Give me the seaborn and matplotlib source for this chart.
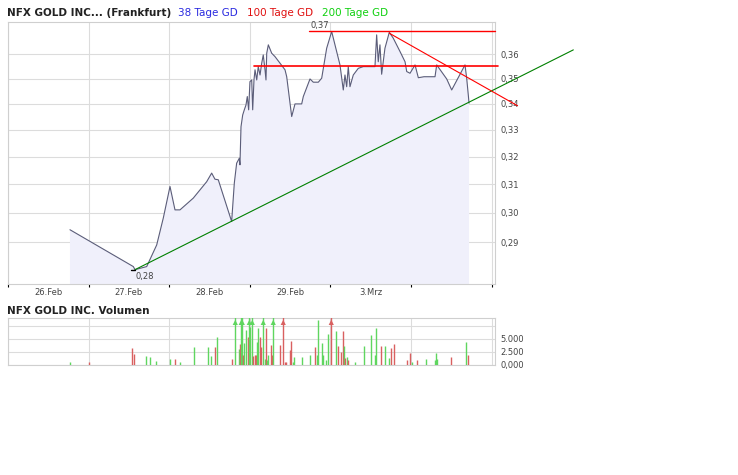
import numpy as np
import pandas as pd
import matplotlib
matplotlib.use("Agg")
import matplotlib.pyplot as plt
import seaborn as sns
from matplotlib.ticker import NullLocator

# Kursverlauf: Tag ab 26.Feb 00:00 (Bruchteil), Kurs in EUR
price_day = [0.769, 1.555, 1.576, 1.721, 1.845, 1.927, 2.010, 2.072, 2.134, 2.299,
             2.465, 2.527, 2.568, 2.609, 2.775, 2.808, 2.837, 2.870, 2.878, 2.891,
             2.912, 2.932, 2.953, 2.969, 2.986, 3.002, 3.024, 3.036, 3.052, 3.065,
             3.086, 3.105, 3.127, 3.148, 3.167, 3.189, 3.201, 3.210, 3.230, 3.272,
             3.313, 3.375, 3.437, 3.458, 3.520, 3.561, 3.644, 3.664, 3.747, 3.788,
             3.850, 3.892, 3.954, 4.016, 4.119, 4.160, 4.181, 4.202, 4.222, 4.243,
             4.284, 4.346, 4.408, 4.553, 4.574, 4.594, 4.615, 4.636, 4.677, 4.731,
             4.780, 4.864, 4.926, 4.947, 4.988, 5.050, 5.091, 5.161, 5.298, 5.319,
             5.443, 5.505, 5.670, 5.691, 5.711, 5.720]
price_value = [0.2942, 0.2820, 0.2810, 0.2820, 0.2891, 0.2982, 0.3092, 0.3010, 0.3010, 0.3051,
               0.3109, 0.3140, 0.3118, 0.3116, 0.2970, 0.3104, 0.3176, 0.3194, 0.3170, 0.3312,
               0.3357, 0.3377, 0.3396, 0.3429, 0.3377, 0.3488, 0.3495, 0.3377, 0.3495, 0.3536,
               0.3495, 0.3549, 0.3515, 0.3563, 0.3597, 0.3536, 0.3495, 0.3604, 0.3639, 0.3604,
               0.3590, 0.3563, 0.3536, 0.3508, 0.3351, 0.3400, 0.3400, 0.3429, 0.3499, 0.3486,
               0.3486, 0.3502, 0.3625, 0.3695, 0.3556, 0.3455, 0.3515, 0.3468, 0.3549, 0.3468,
               0.3515, 0.3542, 0.3549, 0.3549, 0.3681, 0.3569, 0.3639, 0.3518, 0.3625, 0.3692,
               0.3667, 0.3611, 0.3569, 0.3529, 0.3522, 0.3556, 0.3504, 0.3508, 0.3508, 0.3556,
               0.3499, 0.3455, 0.3556, 0.3502, 0.3435, 0.3403]

day_labels = ["26.Feb", "27.Feb", "28.Feb", "29.Feb", "3.Mrz"]
price_ticks = [0.29, 0.30, 0.31, 0.32, 0.33, 0.34, 0.35, 0.36]

# Umsatz (Stueck), 1 = gruen, 0 = rot; Werte ueber der Skala sind geschaetzt
vol_day = [0.773, 1.009, 1.542, 1.563, 1.716, 1.762, 1.840, 2.010, 2.076, 2.138,
           2.311, 2.485, 2.522, 2.572, 2.597, 2.783, 2.820, 2.862, 2.875, 2.894,
           2.907, 2.919, 2.932, 2.957, 2.981, 2.994, 3.006, 3.031, 3.043, 3.061,
           3.073, 3.086, 3.105, 3.130, 3.143, 3.167, 3.192, 3.205, 3.217, 3.230,
           3.267, 3.279, 3.291, 3.378, 3.415, 3.440, 3.453, 3.502, 3.515, 3.539,
           3.552, 3.651, 3.751, 3.813, 3.837, 3.850, 3.900, 3.912, 3.949, 3.974,
           4.011, 4.073, 4.098, 4.135, 4.160, 4.172, 4.185, 4.210, 4.222, 4.309,
           4.421, 4.507, 4.557, 4.569, 4.632, 4.681, 4.731, 4.756, 4.793, 4.954,
           4.991, 5.016, 5.078, 5.190, 5.301, 5.314, 5.326, 5.500, 5.686, 5.711]
vol_value = [400, 400, 3100, 2100, 1700, 1500, 600, 1000, 1000, 400,
             3300, 3300, 1700, 3300, 5200, 1150, 12000, 2900, 4000, 12000,
             12000, 1900, 4200, 6700, 5200, 12000, 7300, 12000, 1700, 1800,
             1900, 4400, 7100, 5200, 3300, 12000, 1150, 7100, 800, 1900,
             3800, 1900, 12000, 3800, 12000, 400, 400, 2700, 4600, 400,
             1500, 1500, 1900, 3300, 1900, 8600, 4200, 1900, 800, 5800,
             12000, 6500, 3600, 2500, 6500, 3600, 1300, 1500, 800, 400,
             3500, 5600, 1900, 7100, 3500, 3500, 1300, 3100, 4000, 800,
             2300, 400, 800, 1000, 800, 2300, 1000, 1500, 4400, 1900]
vol_up = [1, 0, 0, 0, 1, 1, 1, 1, 0, 1,
          1, 1, 1, 0, 1, 0, 1, 1, 0, 1,
          1, 0, 1, 1, 0, 1, 1, 1, 0, 0,
          0, 1, 1, 0, 0, 1, 1, 0, 1, 1,
          0, 0, 1, 0, 0, 0, 0, 0, 0, 1,
          1, 1, 1, 0, 1, 1, 1, 1, 1, 1,
          0, 1, 0, 0, 0, 1, 0, 1, 0, 1,
          1, 1, 1, 1, 0, 1, 1, 0, 0, 0,
          0, 1, 0, 1, 1, 1, 1, 0, 1, 0]
vol_ticks = [0, 2500, 5000, 7500]
vol_tick_labels = ["0,000", "2.500", "5.000", ""]

# eingezeichnete Trendlinien
uptrend_day = [1.576, 7.014]
uptrend_value = [0.2810, 0.3618]
downtrend_day = [4.731, 6.321]
downtrend_value = [0.3688, 0.3393]
support_day = [3.052, 6.079]
support_value = 0.3551
resist_day = [3.734, 6.042]
resist_value = 0.3697

W, H = 738, 475
GRID = "#dcdcdc"
BORDER = "#cfcfcf"
TXT = "#444444"

sns.set_theme(style="white")
plt.rcParams["font.family"] = ["DejaVu Sans"]

fig = plt.figure(figsize=(W / 100, H / 100), dpi=100)
ax = fig.add_axes([7.5 / W, 1 - 283.7 / H, 487.8 / W, 262.2 / H])
axv = fig.add_axes([7.5 / W, 1 - 364.5 / H, 487.8 / W, 46.8 / H])

# --- Kurs ---
df = pd.DataFrame({"day": price_day, "price": price_value})
ax.set_yscale("log")
ax.fill_between(df["day"], df["price"], 0.2, color="#f0f0fb", lw=0, zorder=1)
sns.lineplot(data=df, x="day", y="price", ax=ax, color="#5b5d79", lw=0.8, zorder=3)

ax.set_xlim(-0.006, 6.046)
ax.set_ylim(0.2765, 0.3738)

ax.set_yticks(price_ticks)
ax.set_yticklabels([f"{v:.2f}".replace(".", ",") for v in price_ticks])
ax.yaxis.set_minor_locator(NullLocator())
ax.yaxis.tick_right()
ax.tick_params(axis="y", length=0, pad=3.5, labelsize=6, labelcolor=TXT)

ax.set_xticks(range(0, 7))
ax.set_xticklabels([])
ax.set_xticks([i + 0.5 for i in range(len(day_labels))], minor=True)
ax.set_xticklabels(day_labels, minor=True)
ax.tick_params(axis="x", which="major", length=2.5, width=0.8, color="black",
               direction="out", bottom=True)
ax.tick_params(axis="x", which="minor", length=0, pad=3, labelsize=6, labelcolor=TXT)
ax.grid(True, which="major", color=GRID, lw=0.8, zorder=0)
ax.set_axisbelow(True)
ax.set_xlabel("")
ax.set_ylabel("")
for s in ax.spines.values():
    s.set_color(BORDER)
    s.set_linewidth(0.8)

# Trendlinien
ax.plot(uptrend_day, uptrend_value, color="#008000", lw=0.8, clip_on=False, zorder=4)
ax.plot(downtrend_day, downtrend_value, color="#ff0000", lw=0.8, clip_on=False, zorder=4)
ax.plot(support_day, [support_value] * 2, color="#ff0000", lw=1.2, clip_on=False, zorder=4)
ax.plot(resist_day, [resist_value] * 2, color="#ff0000", lw=1.0, clip_on=False, zorder=4)

# Hoch / Tief
hi_i = int(np.argmax(price_value))
lo_i = int(np.argmin(price_value))
hi_txt = f"{price_value[hi_i]:.2f}".replace(".", ",")
lo_txt = f"{price_value[lo_i]:.2f}".replace(".", ",")
ax.annotate(hi_txt, xy=(resist_day[0], resist_value), xytext=(1, 1),
            textcoords="offset points", ha="left", va="bottom", fontsize=6, color=TXT)
ax.plot([price_day[lo_i] - 0.05, price_day[lo_i]], [price_value[lo_i]] * 2,
        color="black", lw=1, zorder=5)
ax.annotate(lo_txt, xy=(price_day[lo_i], price_value[lo_i]), xytext=(0.5, -2),
            textcoords="offset points", ha="left", va="top", fontsize=6, color=TXT)

# --- Volumen ---
vdf = pd.DataFrame({"day": vol_day, "volume": vol_value, "up": vol_up})
vol_top = 9000
colors = np.where(vdf["up"] == 1, "#5fd65f", "#d96060")
axv.vlines(vdf["day"], 0, vdf["volume"], colors=colors, lw=1.0, zorder=3)
over = vdf["volume"] > vol_top
axv.scatter(vdf.loc[over, "day"], [vol_top * 0.9] * int(over.sum()), marker="^",
            s=14, c=colors[over.values], lw=0, zorder=4)
axv.set_xlim(-0.006, 6.046)
axv.set_ylim(0, vol_top)
axv.set_xticks(range(0, 7))
axv.set_xticklabels([])
axv.set_yticks(vol_ticks)
axv.set_yticklabels(vol_tick_labels)
axv.yaxis.tick_right()
axv.tick_params(axis="both", length=0, labelsize=6, labelcolor=TXT, pad=3.5)
axv.grid(True, color=GRID, lw=0.8, zorder=0)
axv.set_axisbelow(True)
for s in axv.spines.values():
    s.set_color(BORDER)
    s.set_linewidth(0.8)

# --- Titel ---
fig.text(7 / W, 1 - 12.5 / H, "NFX GOLD INC... (Frankfurt)", fontsize=7.5,
         fontweight="bold", color="#222222", va="center", ha="left")
fig.text(178 / W, 1 - 12.5 / H, "38 Tage GD", fontsize=7.5, color="#2a2ae0", va="center")
fig.text(247 / W, 1 - 12.5 / H, "100 Tage GD", fontsize=7.5, color="#e01010", va="center")
fig.text(322 / W, 1 - 12.5 / H, "200 Tage GD", fontsize=7.5, color="#10d010", va="center")
fig.text(7 / W, 1 - 310.5 / H, "NFX GOLD INC. Volumen", fontsize=7.5,
         fontweight="bold", color="#222222", va="center", ha="left")

fig.savefig("out.png", dpi=100, facecolor="white")
